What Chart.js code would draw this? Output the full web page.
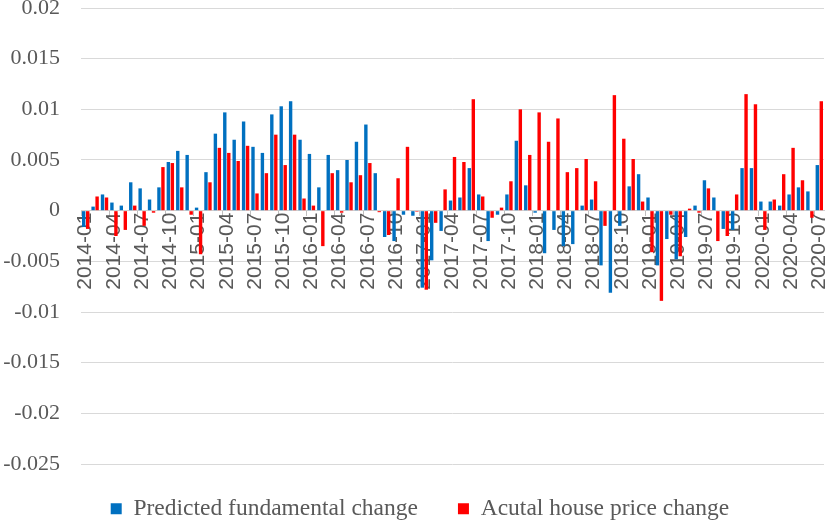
<!DOCTYPE html>
<html>
<head>
<meta charset="utf-8">
<script src="https://cdn.jsdelivr.net/npm/chart.js@4.4.1/dist/chart.umd.min.js"></script>
<style>
  html, body { margin: 0; padding: 0; background: #fff; }
  #wrap { width: 827px; height: 520px; }
</style>
</head>
<body>
<div id="wrap"><canvas id="c" width="827" height="520"></canvas></div>
<script>
const categories = [
  "2014-01","2014-02","2014-03","2014-04","2014-05","2014-06","2014-07","2014-08","2014-09","2014-10","2014-11","2014-12",
  "2015-01","2015-02","2015-03","2015-04","2015-05","2015-06","2015-07","2015-08","2015-09","2015-10","2015-11","2015-12",
  "2016-01","2016-02","2016-03","2016-04","2016-05","2016-06","2016-07","2016-08","2016-09","2016-10","2016-11","2016-12",
  "2017-01","2017-02","2017-03","2017-04","2017-05","2017-06","2017-07","2017-08","2017-09","2017-10","2017-11","2017-12",
  "2018-01","2018-02","2018-03","2018-04","2018-05","2018-06","2018-07","2018-08","2018-09","2018-10","2018-11","2018-12",
  "2019-01","2019-02","2019-03","2019-04","2019-05","2019-06","2019-07","2019-08","2019-09","2019-10","2019-11","2019-12",
  "2020-01","2020-02","2020-03","2020-04","2020-05","2020-06","2020-07"
];

const predictedFundamental = [
  -0.0016, 0.0004, 0.0016, 0.0008, 0.0005, 0.0028, 0.0022, 0.0011, 0.0023, 0.0048, 0.0059, 0.0055,
  0.0003, 0.0038, 0.0076, 0.0097, 0.0070, 0.0088, 0.0063, 0.0057, 0.0095, 0.0103, 0.0108, 0.0070,
  0.0056, 0.0023, 0.0055, 0.0040, 0.0050, 0.0068, 0.0085, 0.0037, -0.0026, -0.0030, -0.0004, -0.0005,
  -0.0076, -0.0049, -0.0020, 0.0010, 0.0013, 0.0042, 0.0016, -0.0030, -0.0004, 0.0016, 0.0069, 0.0025,
  -0.0002, -0.0042, -0.0019, -0.0035, -0.0033, 0.0005, 0.0011, -0.0054, -0.0081, -0.0015, 0.0024, 0.0036,
  0.0013, -0.0054, -0.0028, -0.0048, -0.0026, 0.0005, 0.0030, 0.0013, -0.0018, -0.0019, 0.0042, 0.0042,
  0.0009, 0.0009, 0.0005, 0.0016, 0.0023, 0.0019, 0.0045
];

const actualHousePrice = [
  -0.0018, 0.0014, 0.0013, -0.0025, -0.0019, 0.0005, -0.0015, -0.0002, 0.0043, 0.0047, 0.0023, -0.0004,
  -0.0043, 0.0028, 0.0062, 0.0057, 0.0049, 0.0064, 0.0017, 0.0037, 0.0075, 0.0045, 0.0075, 0.0012,
  0.0005, -0.0035, 0.0037, -0.0002, 0.0028, 0.0035, 0.0047, -0.00015, -0.0024, 0.0032, 0.0063, -0.0001,
  -0.0078, -0.0012, 0.0021, 0.0053, 0.0048, 0.0110, 0.0014, -0.0007, 0.0003, 0.0029, 0.0100, 0.0055,
  0.0097, 0.0068, 0.0091, 0.0038, 0.0042, 0.0051, 0.0029, -0.0015, 0.0114, 0.0071, 0.0051, 0.0009,
  -0.0041, -0.0089, -0.0004, -0.0045, 0.0002, -0.0002, 0.0022, -0.0030, -0.0025, 0.0016, 0.0115, 0.0105,
  -0.0019, 0.0011, 0.0036, 0.0062, 0.0030, -0.0007, 0.0108
];

const seriesNames = ["Predicted fundamental change", "Acutal house price change"];
const yMin = -0.025, yMax = 0.02, yStep = 0.005;

const legendPlacement = {
  id: 'legendPlacement',
  beforeInit(chart) {
    const orig = chart.legend.fit;
    chart.legend.fit = function () {
      orig.bind(chart.legend)();
      this.height = 56;
    };
  },
  afterLayout(chart) {
    const lg = chart.legend;
    lg.top -= 7;
    lg.left += 8;
    lg.right += 8;
  }
};

new Chart(document.getElementById('c'), {
  type: 'bar',
  data: {
    labels: categories,
    datasets: [
      { label: seriesNames[0], data: predictedFundamental, backgroundColor: '#0070C0', borderWidth: 0 },
      { label: seriesNames[1], data: actualHousePrice, backgroundColor: '#FF0000', borderWidth: 0 }
    ]
  },
  options: {
    responsive: false,
    animation: false,
    devicePixelRatio: 1,
    datasets: { bar: { categoryPercentage: 0.85, barPercentage: 0.85 } },
    layout: { padding: { top: 0, right: 3, bottom: 0, left: 0 } },
    plugins: {
      tooltip: { enabled: false },
      legend: {
        position: 'bottom',
        labels: {
          boxWidth: 11,
          boxHeight: 11,
          padding: 40,
          color: '#595959',
          font: { family: "'Liberation Serif', 'Times New Roman', serif", size: 23.5 }
        }
      }
    },
    scales: {
      x: {
        position: { y: 0 },
        border: { display: true, color: '#d0d0d0' },
        grid: {
          drawOnChartArea: false,
          drawTicks: true,
          tickLength: 5,
          offset: true,
          color: (ctx) => (ctx.index % 3 === 0 ? '#bfbfbf' : 'rgba(0,0,0,0)')
        },
        afterFit: (s) => { s.paddingLeft = 0; s.paddingRight = 0; s.paddingTop = 0; s.paddingBottom = 0; },
        ticks: {
          autoSkip: false,
          minRotation: 90,
          maxRotation: 90,
          padding: -3,
          color: '#595959',
          font: { family: "'Liberation Sans', Arial, sans-serif", size: 21 },
          callback: function (value, index) {
            return index % 3 === 0 ? categories[index] : '';
          }
        }
      },
      y: {
        min: yMin,
        max: yMax,
        border: { display: false },
        grid: { color: '#d9d9d9', drawTicks: false },
        afterFit: (s) => { s.width = 81; s.paddingTop = 8; s.paddingBottom = 8; },
        ticks: {
          stepSize: yStep,
          padding: 21,
          color: '#595959',
          font: { family: "'Liberation Serif', 'Times New Roman', serif", size: 22, lineHeight: 0.75 },
          callback: (v) => Number(Number(v).toFixed(4)).toString()
        }
      }
    }
  },
  plugins: [legendPlacement]
});
</script>
</body>
</html>
